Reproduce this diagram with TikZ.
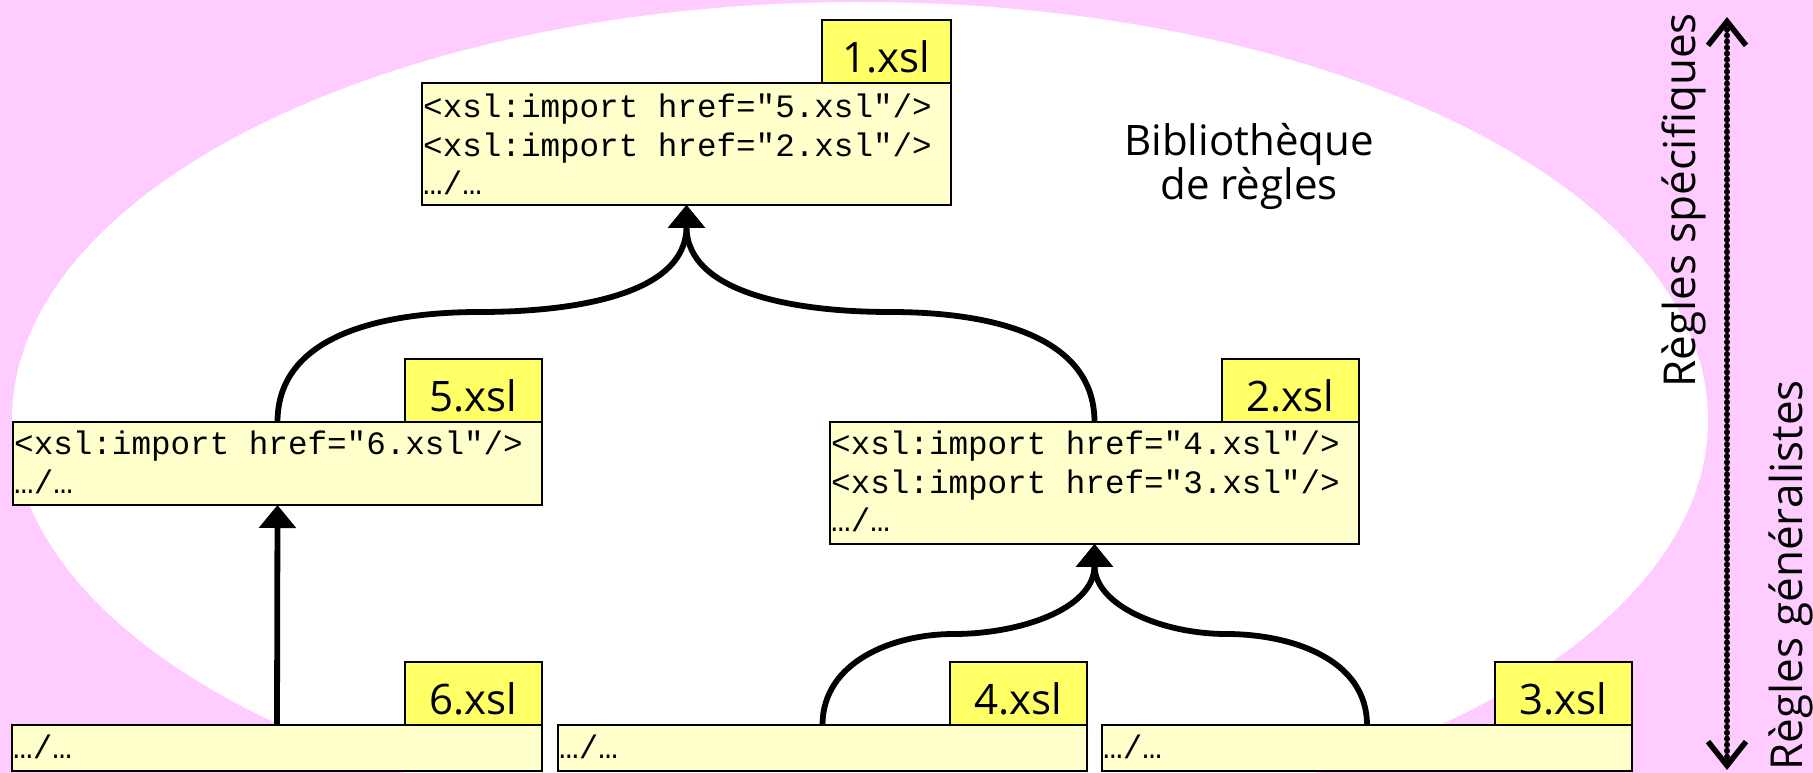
\documentclass[tikz,border=0pt]{standalone}
\usepackage{fontspec}
\setmainfont{Open Sans}
\setmonofont{Liberation Mono}
\usetikzlibrary{arrows.meta}
\definecolor{pinkbg}{HTML}{FFCCFF}
\definecolor{tagyellow}{HTML}{FFFF66}
\definecolor{bodyyellow}{HTML}{FFFFCC}
\newcommand{\msp}{\hspace*{0.6em}}
\newcommand{\imp}[1]{<xsl:import\msp href="#1.xsl"/>}
\begin{document}
\begin{tikzpicture}[x=1pt,y=1pt,
  bodybox/.style={draw=black, line width=1.8pt, fill=bodyyellow, anchor=north west, inner sep=0pt, outer sep=0pt},
  tagbox/.style={draw=black, line width=1.8pt, fill=tagyellow, anchor=south east, inner sep=0pt, outer sep=0pt,
    minimum height=63pt, text height=53pt, text depth=10pt, font=\fontsize{42}{50}\selectfont},
  code/.style={font=\ttfamily\fontsize{32.6}{38.5}\selectfont, anchor=base west, inner sep=0pt, text width=528pt, align=left},
  labeltext/.style={font=\fontsize{42}{44}\selectfont, inner sep=0pt},
  sidetext/.style={font=\fontsize{44}{48}\selectfont, inner sep=0pt, rotate=90, anchor=base west},
  link/.style={line width=5.8pt, -{Triangle[width=36pt,length=23pt]}},
  axis/.style={line width=6.5pt, line cap=round, dash pattern=on 0.01pt off 6pt,
    {Straight Barb[length=24pt,width=38pt,line width=5.5pt]}-{Straight Barb[length=24pt,width=38pt,line width=5.5pt]}}
]
\useasboundingbox (0,0) rectangle (1813,773);
\fill[pinkbg] (0,0) rectangle (1813,773);
\fill[white] (860,353) ellipse [x radius=848pt, y radius=418pt];

% boxes
\node[bodybox, minimum width=529pt, minimum height=122pt] (b1) at (422,690) {};
\node[tagbox, minimum width=129pt] (t1) at (b1.north east) {1.xsl};
\node[code] (c1) at (423,655) {\imp{5}\\\imp{2}\\…/…};

\node[bodybox, minimum width=529pt, minimum height=83pt] (b5) at (13,351) {};
\node[tagbox, minimum width=137pt] (t5) at (b5.north east) {5.xsl};
\node[code] (c5) at (14,318) {\imp{6}\\…/…};

\node[bodybox, minimum width=529pt, minimum height=122pt] (b2) at (830,351) {};
\node[tagbox, minimum width=137pt] (t2) at (b2.north east) {2.xsl};
\node[code] (c2) at (831,318) {\imp{4}\\\imp{3}\\…/…};

\node[bodybox, minimum width=530pt, minimum height=46pt] (b6) at (12,48) {};
\node[tagbox, minimum width=137pt] (t6) at (b6.north east) {6.xsl};
\node[code] (c6) at (13,14) {…/…};

\node[bodybox, minimum width=529pt, minimum height=46pt] (b4) at (558,48) {};
\node[tagbox, minimum width=137pt] (t4) at (b4.north east) {4.xsl};
\node[code] (c4) at (559,14) {…/…};

\node[bodybox, minimum width=530pt, minimum height=46pt] (b3) at (1102,48) {};
\node[tagbox, minimum width=137pt] (t3) at (b3.north east) {3.xsl};
\node[code] (c3) at (1103,14) {…/…};

% label
\node[labeltext, align=center] (lib) at (1249,607) {Bibliothèque\\de règles};

% connectors
\coordinate (m1l) at (480,461);
\coordinate (m1r) at (890,461);
\coordinate (m2l) at (954,139);
\coordinate (m2r) at (1226,139);
\draw[link] (b5.north) to[out=90,in=180] (m1l) to[out=0,in=-90] (b1.south);
\draw[link] (b2.north) to[out=90,in=0] (m1r) to[out=180,in=-90] (b1.south);
\draw[link] (b6.north) -- (b5.south);
\draw[link] (b4.north) to[out=90,in=180] (m2l) to[out=0,in=-90] (b2.south);
\draw[link] (b3.north) to[out=90,in=0] (m2r) to[out=180,in=-90] (b2.south);

% side axis
\coordinate (axtop) at (1727,756);
\coordinate (axbot) at (1727,3);
\draw[axis] (axbot) -- (axtop);
\node[sidetext] (spec) at (1695,385) {Règles spécifiques};
\node[sidetext] (gen) at (1802,2) {Règles généralistes};
\end{tikzpicture}
\end{document}
